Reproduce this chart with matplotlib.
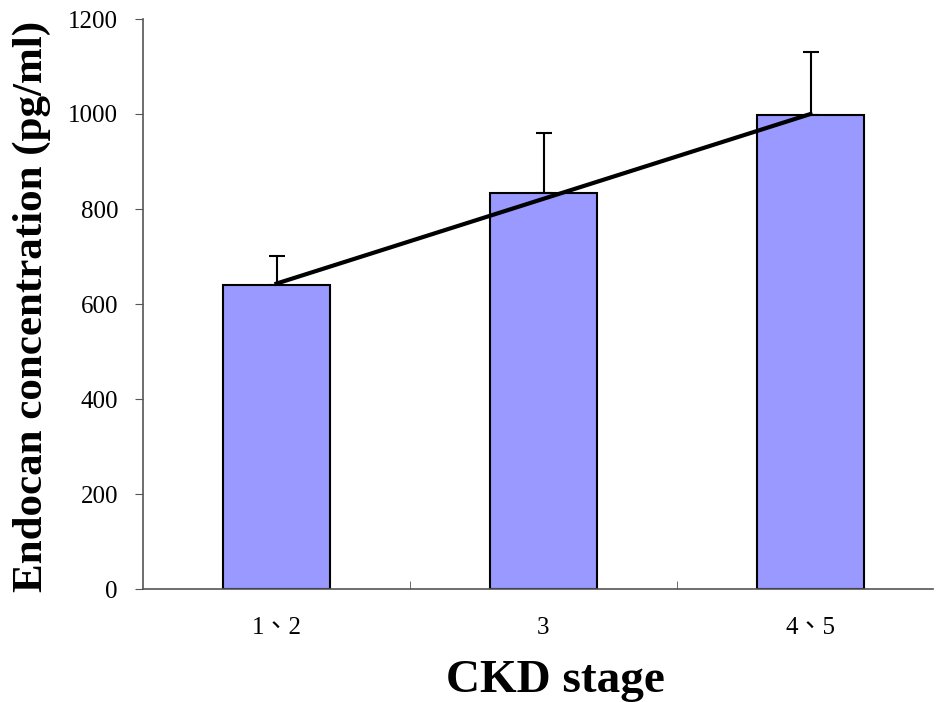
import matplotlib

matplotlib.use("Agg")
import matplotlib.pyplot as plt
import numpy as np

# values
stages = ["1、2", "3", "4、5"]
means = [640, 834, 998]
sd_upper = [61, 126, 133]
trend = [643, 1000]

TICK_FONT = ["Liberation Serif", "Noto Sans CJK TC"]

fig = plt.figure(figsize=(9.36, 7.02), dpi=100)
ax = fig.add_axes([143 / 936, 1 - 589 / 702, 790 / 936, 570 / 702])

x = np.arange(len(stages))
ax.bar(x, means, width=0.4, color="#9999FF", edgecolor="black", linewidth=1.5, zorder=2)
ax.errorbar(x, means, yerr=[np.zeros(len(means)), sd_upper], fmt="none",
            ecolor="black", elinewidth=1.5, capsize=6, capthick=1.5, zorder=1)
ax.plot([x[0], x[-1]], trend, color="black", linewidth=3, zorder=3)

ax.set_xlim(-0.5, -0.5 + 790 / 267)
ax.set_ylim(0, 1200)
ax.set_yticks(range(0, 1201, 200))
ax.set_xticks(x)
ax.set_xticklabels(stages)
ax.set_xticks(x[:-1] + 0.5, minor=True)

for side in ("top", "right"):
    ax.spines[side].set_visible(False)
for side in ("left", "bottom"):
    ax.spines[side].set_color("#555555")
    ax.spines[side].set_linewidth(1.2)

ax.tick_params(axis="y", direction="out", length=6, color="#555555", pad=12)
ax.tick_params(axis="x", which="major", length=0, pad=20)
ax.tick_params(axis="x", which="minor", direction="in", length=6, color="#555555")
for lab in ax.get_xticklabels() + ax.get_yticklabels():
    lab.set_family(TICK_FONT)
    lab.set_fontsize(18)

# axis titles placed in figure pixels to match the reference layout
fig.text(32 / 936, 1 - 306 / 702, "Endocan concentration (pg/ml)", rotation=90,
         ha="center", va="center", family="Liberation Serif",
         fontweight="bold", fontsize=31)
fig.text(555 / 936, 1 - 681 / 702, "CKD stage", ha="center", va="center",
         family="Liberation Serif", fontweight="bold", fontsize=34)

fig.savefig("out.png", dpi=100)
